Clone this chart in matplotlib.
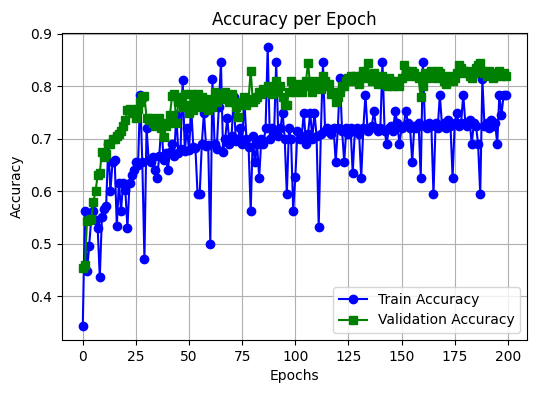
import matplotlib
matplotlib.use("Agg")
import matplotlib.pyplot as plt

# Accuracy values per epoch
train_acc = [
    0.343, 0.563, 0.447, 0.496, 0.548, 0.563, 0.545, 0.530, 0.436, 0.550,
    0.566, 0.572, 0.690, 0.600, 0.656, 0.660, 0.534, 0.616, 0.563, 0.616,
    0.603, 0.530, 0.616, 0.630, 0.640, 0.656, 0.650, 0.784, 0.655, 0.470,
    0.720, 0.660, 0.655, 0.665, 0.640, 0.626, 0.668, 0.730, 0.660, 0.672,
    0.640, 0.675, 0.690, 0.668, 0.745, 0.672, 0.680, 0.812, 0.676, 0.720,
    0.678, 0.760, 0.685, 0.682, 0.594, 0.594, 0.690, 0.750, 0.686, 0.688,
    0.500, 0.813, 0.690, 0.680, 0.760, 0.846, 0.675, 0.700, 0.740, 0.690,
    0.705, 0.780, 0.695, 0.700, 0.720, 0.690, 0.775, 0.700, 0.685, 0.562,
    0.705, 0.656, 0.690, 0.626, 0.700, 0.690, 0.720, 0.875, 0.700, 0.720,
    0.710, 0.846, 0.705, 0.720, 0.750, 0.700, 0.594, 0.720, 0.700, 0.563,
    0.627, 0.715, 0.700, 0.705, 0.750, 0.690, 0.710, 0.750, 0.700, 0.750,
    0.705, 0.532, 0.710, 0.846, 0.715, 0.720, 0.715, 0.710, 0.720, 0.656,
    0.720, 0.815, 0.715, 0.656, 0.720, 0.710, 0.720, 0.634, 0.715, 0.720,
    0.710, 0.626, 0.720, 0.784, 0.715, 0.720, 0.725, 0.753, 0.720, 0.715,
    0.720, 0.846, 0.715, 0.690, 0.720, 0.725, 0.715, 0.753, 0.730, 0.690,
    0.720, 0.725, 0.753, 0.730, 0.720, 0.656, 0.725, 0.720, 0.730, 0.626,
    0.846, 0.725, 0.720, 0.730, 0.725, 0.594, 0.730, 0.720, 0.784, 0.725,
    0.730, 0.720, 0.735, 0.725, 0.626, 0.730, 0.750, 0.725, 0.730, 0.784,
    0.730, 0.725, 0.735, 0.690, 0.730, 0.725, 0.690, 0.594, 0.813, 0.725,
    0.730, 0.720, 0.735, 0.725, 0.730, 0.690, 0.784, 0.745, 0.784, 0.784,
]

val_acc = [
    0.453, 0.460, 0.544, 0.545, 0.547, 0.580, 0.600, 0.630, 0.635, 0.675,
    0.665, 0.670, 0.690, 0.690, 0.700, 0.700, 0.705, 0.710, 0.715, 0.725,
    0.735, 0.755, 0.757, 0.750, 0.755, 0.740, 0.757, 0.770, 0.780, 0.782,
    0.740, 0.735, 0.740, 0.730, 0.725, 0.730, 0.740, 0.720, 0.704, 0.725,
    0.730, 0.745, 0.782, 0.785, 0.730, 0.770, 0.780, 0.760, 0.785, 0.765,
    0.750, 0.785, 0.755, 0.770, 0.785, 0.760, 0.780, 0.770, 0.765, 0.755,
    0.775, 0.760, 0.790, 0.770, 0.780, 0.785, 0.775, 0.790, 0.780, 0.770,
    0.785, 0.770, 0.760, 0.742, 0.765, 0.770, 0.780, 0.765, 0.775, 0.830,
    0.770, 0.775, 0.780, 0.790, 0.785, 0.795, 0.790, 0.800, 0.790, 0.785,
    0.795, 0.810, 0.790, 0.800, 0.780, 0.765, 0.765, 0.790, 0.810, 0.800,
    0.790, 0.795, 0.805, 0.790, 0.800, 0.810, 0.844, 0.800, 0.790, 0.810,
    0.800, 0.805, 0.795, 0.820, 0.810, 0.800, 0.805, 0.785, 0.790, 0.770,
    0.780, 0.790, 0.800, 0.800, 0.810, 0.815, 0.820, 0.810, 0.820, 0.815,
    0.805, 0.820, 0.830, 0.815, 0.844, 0.820, 0.810, 0.825, 0.815, 0.805,
    0.815, 0.820, 0.810, 0.800, 0.815, 0.810, 0.800, 0.805, 0.810, 0.800,
    0.815, 0.840, 0.830, 0.825, 0.820, 0.830, 0.825, 0.820, 0.815, 0.780,
    0.800, 0.825, 0.815, 0.820, 0.830, 0.825, 0.815, 0.830, 0.825, 0.820,
    0.810, 0.805, 0.815, 0.820, 0.810, 0.815, 0.825, 0.840, 0.835, 0.830,
    0.825, 0.830, 0.820, 0.815, 0.825, 0.835, 0.840, 0.845, 0.830, 0.825,
    0.820, 0.830, 0.825, 0.815, 0.820, 0.825, 0.830, 0.820, 0.825, 0.820,
]

epochs = list(range(len(train_acc)))

fig, ax = plt.subplots(figsize=(5.36, 3.93), dpi=100)
fig.subplots_adjust(left=0.115, right=0.983, top=0.916, bottom=0.135)

ax.plot(epochs, train_acc, marker='o', color='blue', label='Train Accuracy')
ax.plot(epochs, val_acc, marker='s', color='green', label='Validation Accuracy')

ax.set_title('Accuracy per Epoch')
ax.set_xlabel('Epochs')
ax.set_ylabel('Accuracy')
ax.grid(True)
ax.legend(loc='lower right')

fig.savefig('out.png')
